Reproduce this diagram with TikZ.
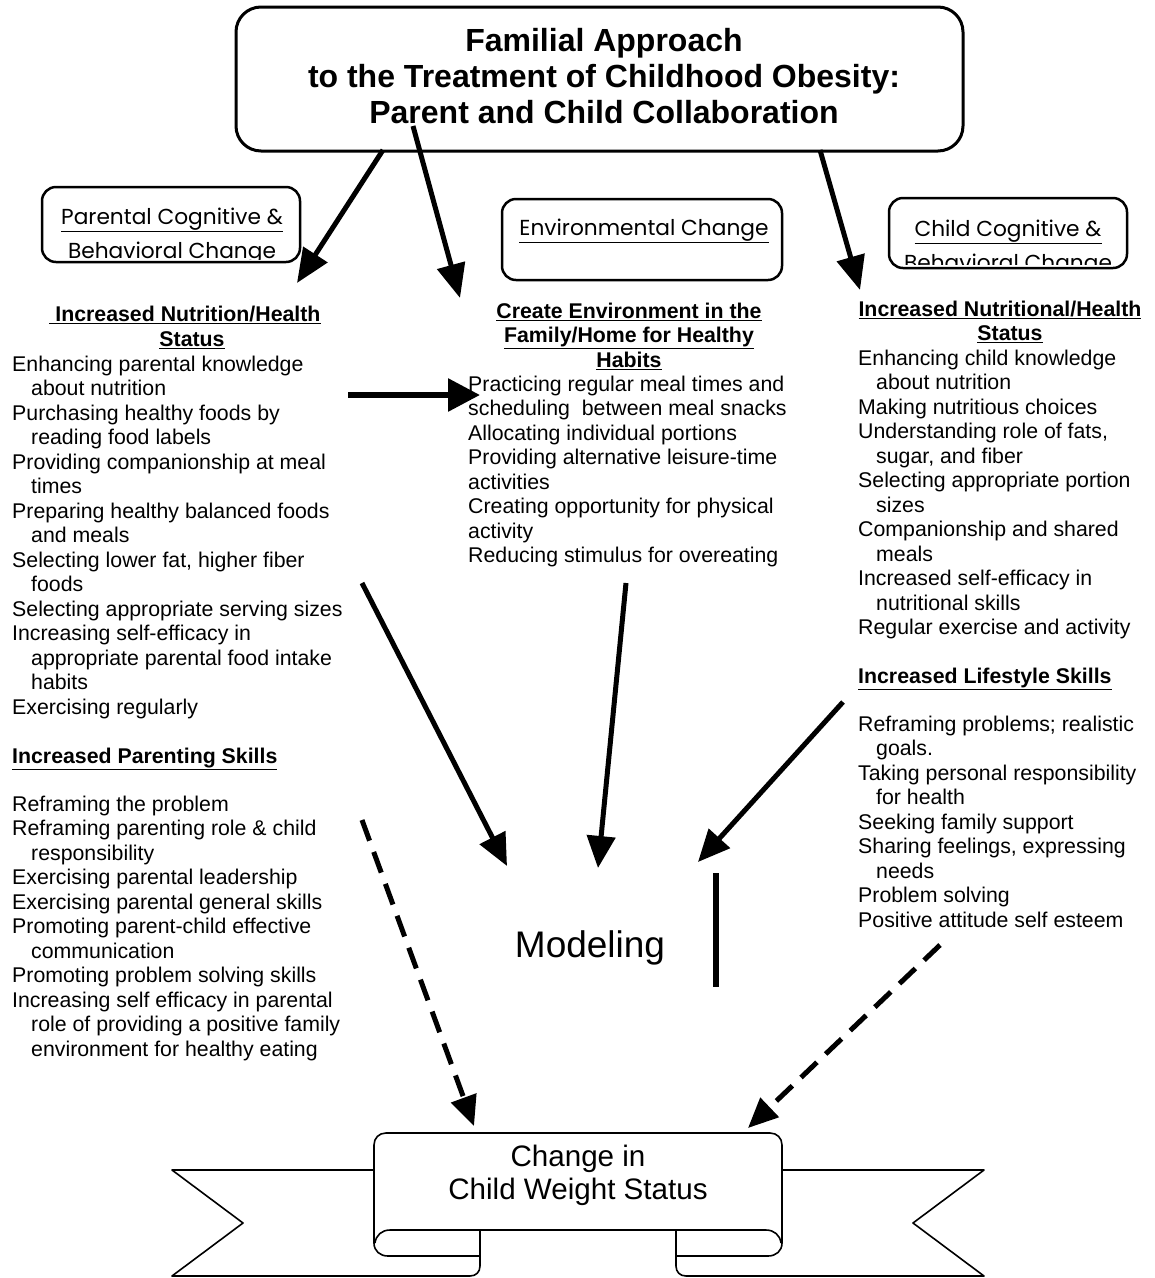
\documentclass[tikz,border=0pt]{standalone}
\usepackage{fontspec}
\setmainfont{Liberation Sans}
\newfontfamily\labfont{Poppins}
\usetikzlibrary{arrows.meta}
\begin{document}
\begin{tikzpicture}[x=1pt,y=-1pt,
  body/.style={anchor=north west, inner sep=0pt, align=left, font=\fontsize{21.3}{24.5}\selectfont},
  head/.style={anchor=north, inner sep=0pt, align=center, font=\fontsize{21.3}{24.5}\selectfont\bfseries},
  subhead/.style={anchor=north west, inner sep=0pt, align=left, font=\fontsize{21.3}{24.5}\selectfont\bfseries},
  labbox/.style={draw, line width=2.5pt, rounded corners=14pt, inner sep=0pt},
  labtext/.style={inner sep=0pt, align=center, font=\labfont\fontsize{21.7}{34}\selectfont},
  bigarrow/.style={line width=5pt, -{Triangle[length=34pt,width=28pt]}},
  midarrow/.style={line width=5pt, -{Triangle[length=32pt,width=28pt]}},
  dasharrow/.style={line width=5pt, dash pattern=on 22pt off 12pt, -{Triangle[length=30pt,width=26pt]}},
  ribbonline/.style={line width=1.6pt, line join=round}
]
\useasboundingbox (0,0) rectangle (1155,1278);

% Title
\node[draw, line width=3pt, rounded corners=25pt, minimum width=727pt, minimum height=144pt, inner sep=0pt] (title) at (599.5,79) {};
\node[inner sep=0pt, align=center, font=\fontsize{32}{36}\selectfont\bfseries] (titletext) at (604,76)
  {Familial Approach\\to the Treatment of Childhood Obesity:\\Parent and Child Collaboration};

% Label boxes
\node[labbox, minimum width=258pt, minimum height=75pt] (pbox) at (171,224.5) {};
\node[labbox, minimum width=280pt, minimum height=81pt] (ebox) at (642,239.5) {};
\node[labbox, minimum width=238pt, minimum height=70pt] (cbox) at (1008,233) {};
\begin{scope}
  \clip (44,189) rectangle (298,259);
  \node[labtext] (ptext) at (172,236) {\underline{Parental Cognitive \&}\\Behavioral Change};
\end{scope}
\node[labtext] (etext) at (644,231) {\underline{Environmental Change}};
\begin{scope}
  \clip (891,200) rectangle (1125,264);
  \node[labtext] (ctext) at (1008,248) {\underline{Child Cognitive \&}\\Behavioral Change};
\end{scope}

% Left column
\node[head] (lhead) at (185,306) {\underline{\ Increased Nutrition/Health}\\\hspace*{14pt}\underline{Status}};
\node[body] (litems) at (12,355.5) {Enhancing parental knowledge\\
\hspace*{19pt}about nutrition\\
Purchasing healthy foods by\\
\hspace*{19pt}reading food labels\\
Providing companionship at meal\\
\hspace*{19pt}times\\
Preparing healthy balanced foods\\
\hspace*{19pt}and meals\\
Selecting lower fat, higher fiber\\
\hspace*{19pt}foods\\
Selecting appropriate serving sizes\\
Increasing self-efficacy in\\
\hspace*{19pt}appropriate parental food intake\\
\hspace*{19pt}habits\\
Exercising regularly};
\node[subhead] (lsub) at (12,747.5) {\underline{Increased Parenting Skills}};
\node[body] (lskills) at (12,795.5) {Reframing the problem\\
Reframing parenting role \& child\\
\hspace*{19pt}responsibility\\
Exercising parental leadership\\
Exercising parental general skills\\
Promoting parent-child effective\\
\hspace*{19pt}communication\\
Promoting problem solving skills\\
Increasing self efficacy in parental\\
\hspace*{19pt}role of providing a positive family\\
\hspace*{19pt}environment for healthy eating};

% Middle column
\node[head] (mhead) at (629,302.5) {\underline{Create Environment in the}\\\underline{Family/Home for Healthy}\\\underline{Habits}};
\node[body] (mitems) at (468,375.5) {Practicing regular meal times and\\
scheduling\ \ between meal snacks\\
Allocating individual portions\\
Providing alternative leisure-time\\
activities\\
Creating opportunity for physical\\
activity\\
Reducing stimulus for overeating};

% Right column
\node[head] (rhead) at (1000,300.5) {\underline{Increased Nutritional/Health}\\\hspace*{20pt}\underline{Status}};
\node[body] (ritems) at (858,349.5) {Enhancing child knowledge\\
\hspace*{18pt}about nutrition\\
Making nutritious choices\\
Understanding role of fats,\\
\hspace*{18pt}sugar, and fiber\\
Selecting appropriate portion\\
\hspace*{18pt}sizes\\
Companionship and shared\\
\hspace*{18pt}meals\\
Increased self-efficacy in\\
\hspace*{18pt}nutritional skills\\
Regular exercise and activity};
\node[subhead] (rsub) at (858,667.5) {\underline{Increased Lifestyle Skills}};
\node[body] (rskills) at (858,715.5) {Reframing problems; realistic\\
\hspace*{18pt}goals.\\
Taking personal responsibility\\
\hspace*{18pt}for health\\
Seeking family support\\
Sharing feelings, expressing\\
\hspace*{18pt}needs\\
Problem solving\\
Positive attitude self esteem};

% Modeling
\node[inner sep=0pt, font=\fontsize{37}{40}\selectfont] (model) at (590,948) {Modeling};

% Ribbon
\node[inner sep=0pt, align=center, font=\fontsize{29.6}{33}\selectfont] (ribbon) at (578,1175.5) {Change in\\Child Weight Status};
\draw[ribbonline] (374,1243) -- (374,1145) .. controls (374,1138) and (379,1133) .. (386,1133)
   -- (770,1133) .. controls (777,1133) and (782,1138) .. (782,1145) -- (782,1243);
\draw[ribbonline] (390,1230) -- (766,1230);
% left curl and tail
\draw[ribbonline] (390,1230) .. controls (382,1230) and (376,1235) .. (375,1243);
\draw[ribbonline] (374,1243) .. controls (374,1251) and (380,1256) .. (388,1256) -- (480,1256);
\draw[ribbonline] (374,1170) -- (172,1170) -- (243,1223) -- (172,1276) -- (470,1276)
   .. controls (476,1276) and (480,1272) .. (480,1266) -- (480,1230);
% right curl and tail
\draw[ribbonline] (766,1230) .. controls (774,1230) and (780,1235) .. (781,1243);
\draw[ribbonline] (782,1243) .. controls (782,1251) and (776,1256) .. (768,1256) -- (676,1256);
\draw[ribbonline] (782,1170) -- (984,1170) -- (913,1223) -- (984,1276) -- (686,1276)
   .. controls (680,1276) and (676,1272) .. (676,1266) -- (676,1230);

% Connector coordinates
\coordinate (t1s) at (383,150);
\coordinate (t1e) at (297,283);
\coordinate (t2s) at (413,126);
\coordinate (t2e) at (460,298);
\coordinate (t3s) at (820,150);
\coordinate (t3e) at (860,290);
\coordinate (hs) at (348,395);
\coordinate (he) at (480,395);
\coordinate (m1s) at (362,583);
\coordinate (m1e) at (507,866);
\coordinate (m2s) at (626,583);
\coordinate (m2e) at (598,868);
\coordinate (m3s) at (843,702);
\coordinate (m3e) at (698,862);
\coordinate (vs) at (716,873);
\coordinate (ve) at (716,987);
\coordinate (d1s) at (362,820);
\coordinate (d1e) at (474,1126);
\coordinate (d2s) at (940,945);
\coordinate (d2e) at (748,1128);

\draw[bigarrow] (t1s) -- (t1e);
\draw[bigarrow] (t2s) -- (t2e);
\draw[bigarrow] (t3s) -- (t3e);
\draw[line width=6pt, -{Triangle[length=32pt,width=32pt]}] (hs) -- (he);
\draw[midarrow] (m1s) -- (m1e);
\draw[midarrow] (m2s) -- (m2e);
\draw[midarrow] (m3s) -- (m3e);
\draw[line width=6pt] (vs) -- (ve);
\draw[dasharrow] (d1s) -- (d1e);
\draw[dasharrow] (d2s) -- (d2e);
\end{tikzpicture}
\end{document}
